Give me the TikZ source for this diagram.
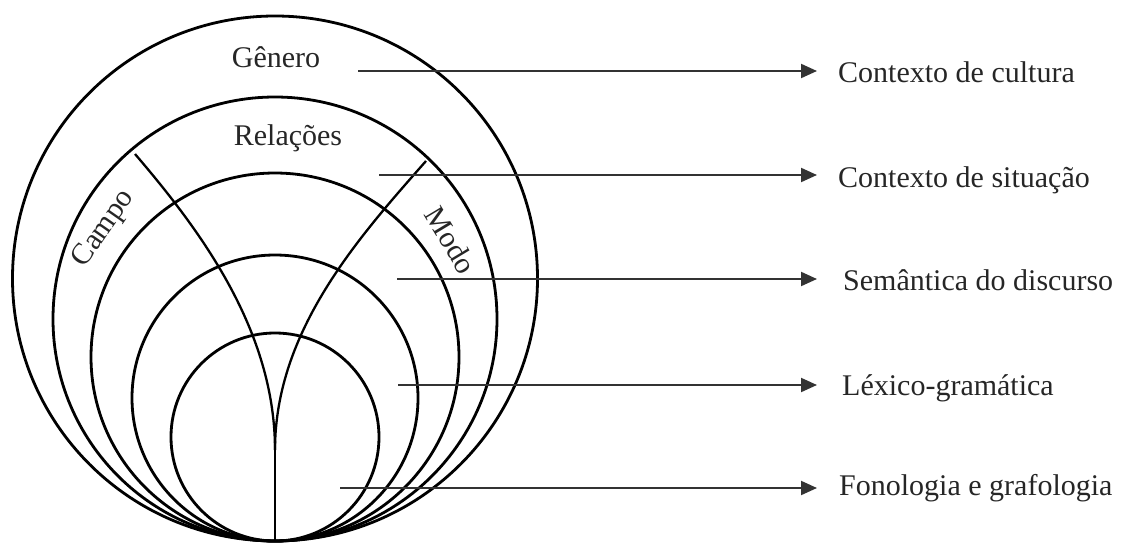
\documentclass[tikz,border=0pt]{standalone}
\usepackage{fontspec}
\setmainfont{Liberation Serif}
\usetikzlibrary{arrows.meta}
\begin{document}
\begin{tikzpicture}[x=1pt,y=-1pt,
  ring/.style={line width=2.8pt,black},
  branch/.style={line width=2.3pt,black},
  arr/.style={line width=2pt,black!80,-{Triangle[length=16pt,width=14pt]}},
  lab/.style={inner sep=0pt,font=\fontsize{30}{36}\selectfont,text=black!85},
  inlab/.style={inner sep=0pt,font=\fontsize{30}{36}\selectfont,text=black!85}]
\useasboundingbox (0,0) rectangle (1121,543);
% circles, all tangent at the bottom point
\draw[ring] (275,278.5) circle[radius=262.5pt];
\draw[ring] (275,319) circle[radius=222pt];
\draw[ring] (275,357) circle[radius=184pt];
\draw[ring] (275,398) circle[radius=143pt];
\draw[ring] (275,437) circle[radius=104pt];
% Campo / Modo branches
\coordinate (bottom) at (275,541);
\coordinate (cusp) at (275,450);
\coordinate (ctop) at (135,154);
\coordinate (mtop) at (426,161);
\draw[branch] (ctop) .. controls (200,230) and (275,330) .. (cusp);
\draw[branch] (mtop) .. controls (360,236) and (275,330) .. (cusp);
\draw[branch] (cusp) -- (bottom);
% inner labels
\node[inlab,anchor=base] (genero) at (276,67) {Gênero};
\node[inlab,anchor=base] (relacoes) at (288,145) {Relações};
\node[inlab,rotate=55] (campo) at (104,229) {Campo};
\node[inlab,rotate=-59] (modo) at (451,240) {Modo};
% arrows
\coordinate (s1) at (358,71);  \coordinate (e1) at (817,71);
\coordinate (s2) at (379,175); \coordinate (e2) at (817,175);
\coordinate (s3) at (397,279); \coordinate (e3) at (817,279);
\coordinate (s4) at (398,385); \coordinate (e4) at (817,385);
\coordinate (s5) at (340,488); \coordinate (e5) at (817,488);
\draw[arr] (s1) -- (e1);
\draw[arr] (s2) -- (e2);
\draw[arr] (s3) -- (e3);
\draw[arr] (s4) -- (e4);
\draw[arr] (s5) -- (e5);
% right labels
\node[lab,anchor=base west] (t1) at (838,82) {Contexto de cultura};
\node[lab,anchor=base west] (t2) at (838,187) {Contexto de situação};
\node[lab,anchor=base west] (t3) at (843,290) {Semântica do discurso};
\node[lab,anchor=base west] (t4) at (842,395) {Léxico-gramática};
\node[lab,anchor=base west] (t5) at (839,495) {Fonologia e grafologia};
\end{tikzpicture}
\end{document}
